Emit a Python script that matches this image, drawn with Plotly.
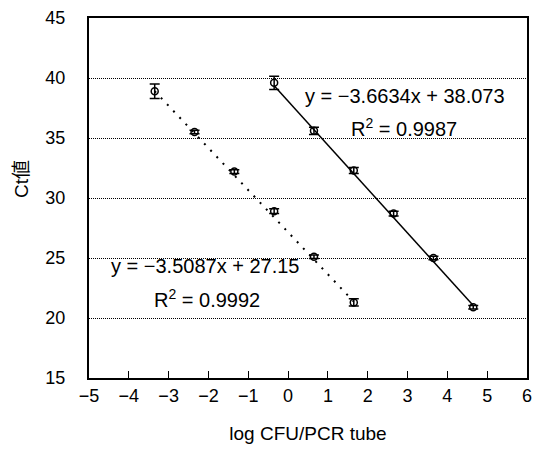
import plotly.graph_objects as go

# Data
x_a = [-3.35, -2.35, -1.35, -0.35, 0.65, 1.65]
y_a = [38.9, 35.5, 32.2, 28.9, 25.1, 21.3]
err_a = [0.6, 0.15, 0.15, 0.2, 0.15, 0.3]
slope_a, icpt_a, r2_a = -3.5087, 27.15, 0.9992

x_b = [-0.35, 0.65, 1.65, 2.65, 3.65, 4.65]
y_b = [39.6, 35.6, 32.3, 28.7, 25.0, 20.9]
err_b = [0.55, 0.3, 0.25, 0.2, 0.15, 0.15]
slope_b, icpt_b, r2_b = -3.6634, 38.073, 0.9987

x_ticks = list(range(-5, 7))
y_ticks = list(range(15, 50, 5))

FONT = "Liberation Sans, Arial, Noto Sans CJK JP, sans-serif"

W, H = 540, 455
L, R, T, B = 89, 8, 14, 77
pw, ph = W - L - R, H - T - B


def trend(xs, m, c):
    return [m * v + c for v in xs]


def pxann(text, px, py, size, angle=0):
    return dict(text=text, x=(px - L) / pw, y=1 - (py - T) / ph, xref="paper", yref="paper",
                xanchor="center", yanchor="middle", showarrow=False, textangle=angle,
                font=dict(size=size, family=FONT, color="black"))


fig = go.Figure()
fig.add_trace(go.Scatter(x=[x_a[0], x_a[-1]], y=trend([x_a[0], x_a[-1]], slope_a, icpt_a),
                         mode="lines", line=dict(color="black", width=2, dash="2px,7px"),
                         showlegend=False, hoverinfo="skip"))
fig.add_trace(go.Scatter(x=[x_b[0], x_b[-1]], y=trend([x_b[0], x_b[-1]], slope_b, icpt_b),
                         mode="lines", line=dict(color="black", width=1.5),
                         showlegend=False, hoverinfo="skip"))
for xs, ys, es in [(x_a, y_a, err_a), (x_b, y_b, err_b)]:
    fig.add_trace(go.Scatter(
        x=xs, y=ys, mode="markers",
        marker=dict(symbol="circle-open", size=7, color="black", line=dict(width=1.5, color="black")),
        error_y=dict(type="data", array=es, color="black", thickness=1.5, width=5),
        showlegend=False))

fig.update_layout(
    width=W, height=H,
    margin=dict(l=L, r=R, t=T, b=B),
    paper_bgcolor="white", plot_bgcolor="white",
    font=dict(family=FONT, color="black", size=18),
    xaxis=dict(range=[-5, 6], tickvals=x_ticks, ticks="inside", ticklen=7, tickwidth=1,
               tickcolor="black", showline=True, linewidth=2, linecolor="black", mirror=True,
               showgrid=False, zeroline=False, tickfont=dict(size=18),
               title=dict(text="log CFU/PCR tube", font=dict(size=19), standoff=22)),
    yaxis=dict(range=[15, 45], tickvals=y_ticks, ticks="", showline=True, linewidth=2,
               linecolor="black", mirror=True, showgrid=True, gridcolor="black", gridwidth=1,
               griddash="1px,1px", zeroline=False, tickfont=dict(size=18), ticklabelstandoff=18,
               title=None),
    annotations=[
        pxann("Ct値", 20, 177, 19, -90),
        pxann("y = −3.6634x + 38.073", 409, 93, 20),
        pxann("R<sup>2</sup> = 0.9987", 408, 125, 20),
        pxann("y = −3.5087x + 27.15", 207, 265, 20),
        pxann("R<sup>2</sup> = 0.9992", 208, 298, 20),
    ],
)

fig.write_html("out.html")
